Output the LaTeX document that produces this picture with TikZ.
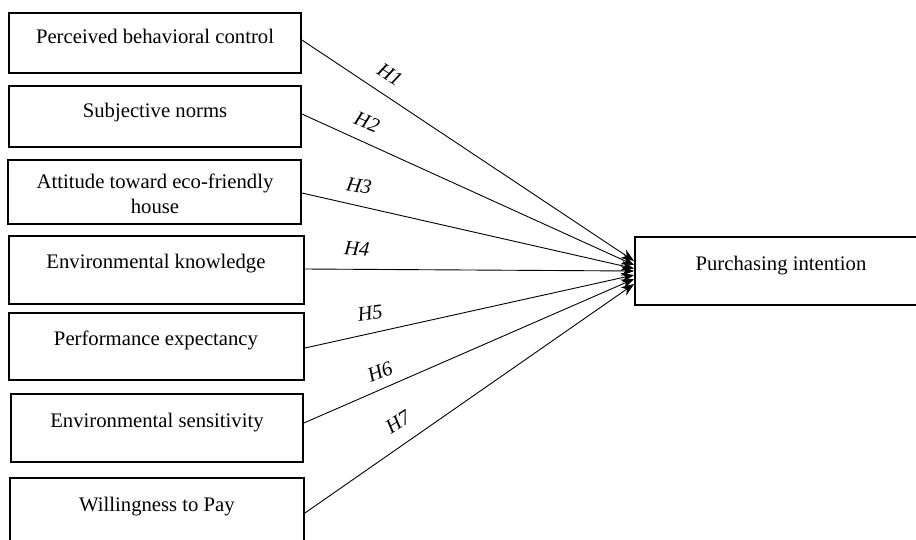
\documentclass[tikz,border=0pt]{standalone}
\usepackage{fontspec}
\setmainfont{Liberation Serif}
\usetikzlibrary{arrows.meta}
\begin{document}
\begin{tikzpicture}[x=1pt,y=-1pt,
  boxnode/.style={draw=black,line width=1.8pt,inner sep=0pt},
  txt/.style={font=\fontsize{20.7}{25}\selectfont,anchor=base,inner sep=0pt,align=center},
  hyp/.style={font=\fontsize{20.5}{25}\selectfont\itshape,inner sep=0pt},
  conn/.style={line width=0.9pt,-{Stealth[length=13pt,width=10pt]}}]
\useasboundingbox (0,0) rectangle (916,539);
\fill[white] (0,0) rectangle (916,539);
% source boxes
\node[boxnode,minimum width=292pt,minimum height=60pt] (b1) at (155,43) {};
\node[boxnode,minimum width=292pt,minimum height=61pt] (b2) at (155,116.5) {};
\node[boxnode,minimum width=293pt,minimum height=64pt] (b3) at (154.5,192) {};
\node[boxnode,minimum width=295pt,minimum height=68pt] (b4) at (156.5,270) {};
\node[boxnode,minimum width=295pt,minimum height=67pt] (b5) at (156.5,346.5) {};
\node[boxnode,minimum width=292pt,minimum height=68pt] (b6) at (157,428) {};
\node[boxnode,minimum width=294pt,minimum height=70pt] (b7) at (157,513) {};
% target box
\node[boxnode,minimum width=285pt,minimum height=68pt] (t) at (777.5,271) {};
% texts
\node[txt] (t1) at (155,43) {Perceived behavioral control};
\node[txt] (t2) at (155,117) {Subjective norms};
\node[txt] (t3a) at (155,188) {Attitude toward eco-friendly};
\node[txt] (t3b) at (155,213) {house};
\node[txt] (t4) at (156,268) {Environmental knowledge};
\node[txt] (t5) at (156,345) {Performance expectancy};
\node[txt] (t6) at (157,427) {Environmental sensitivity};
\node[txt] (t7) at (157,511) {Willingness to Pay};
\node[txt] (tt) at (781,270) {Purchasing intention};
% connector end points
\coordinate (s1) at (b1.east |- 0,40);
\coordinate (s2) at (b2.east |- 0,114);
\coordinate (s3) at (b3.east |- 0,193);
\coordinate (s4) at (b4.east |- 0,269);
\coordinate (s5) at (b5.east |- 0,348);
\coordinate (s6) at (b6.east |- 0,423);
\coordinate (s7) at (b7.east |- 0,513);
\coordinate (e1) at (t.west |- 0,261);
\coordinate (e2) at (t.west |- 0,265);
\coordinate (e3) at (t.west |- 0,268.5);
\coordinate (e4) at (t.west |- 0,271);
\coordinate (e5) at (t.west |- 0,275);
\coordinate (e6) at (t.west |- 0,279);
\coordinate (e7) at (t.west |- 0,284);
\draw[conn] (s1) -- (e1);
\draw[conn] (s2) -- (e2);
\draw[conn] (s3) -- (e3);
\draw[conn] (s4) -- (e4);
\draw[conn] (s5) -- (e5);
\draw[conn] (s6) -- (e6);
\draw[conn] (s7) -- (e7);
% hypothesis labels
\node[hyp,rotate=-33] (h1) at (390,75) {H1};
\node[hyp,rotate=-22] (h2) at (367,122) {H2};
\node[hyp,rotate=-10] (h3) at (359,186) {H3};
\node[hyp,rotate=-5] (h4) at (357,249) {H4};
\node[hyp,rotate=8] (h5) at (370,313) {H5};
\node[hyp,rotate=22] (h6) at (380,372) {H6};
\node[hyp,rotate=33] (h7) at (398,422) {H7};
\end{tikzpicture}
\end{document}
